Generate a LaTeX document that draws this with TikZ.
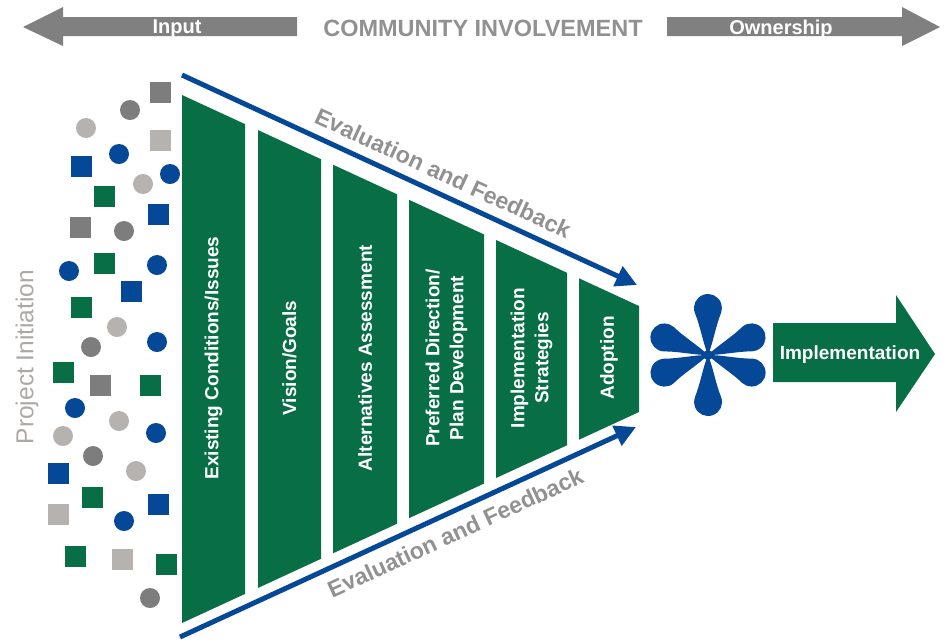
\documentclass[tikz,border=0pt]{standalone}
\usepackage{fontspec}
\setmainfont{Liberation Sans}
\usetikzlibrary{arrows.meta}

\definecolor{fgreen}{RGB}{8,110,70}
\definecolor{fblue}{RGB}{5,72,152}
\definecolor{dgray}{RGB}{125,125,125}
\definecolor{lgray}{RGB}{182,178,176}
\definecolor{agray}{RGB}{128,128,128}
\definecolor{tgray}{RGB}{145,145,145}

\begin{document}
\begin{tikzpicture}[x=1pt,y=-1pt,
	seg/.style={fill=fgreen},
	seglabel/.style={rotate=90,text=white,align=center,font=\fontsize{19}{24}\selectfont\bfseries},
	barlabel/.style={text=white,font=\fontsize{20}{24}\selectfont\bfseries},
	fb/.style={draw=fblue,line width=5pt,-{Triangle[length=21pt,width=21pt]}},
	fblabel/.style={text=tgray,sloped,font=\fontsize{23.2}{27}\selectfont\bfseries}
	]

	\useasboundingbox (0,0) rectangle (947,641);

	% top bar
	\fill[agray] (23,27) -- (63,7) -- (63,17) -- (297,17) -- (297,36) -- (63,36) -- (63,46) -- cycle;
	\fill[agray] (667,17) -- (902,17) -- (902,7) -- (940,27) -- (902,46) -- (902,36) -- (667,36) -- cycle;
	\node[barlabel] (input) at (177,29) {Input};
	\node[barlabel] (owner) at (781,29) {Ownership};
	\node[text=tgray,font=\fontsize{23.5}{26}\selectfont\bfseries] (community) at (483,28) {COMMUNITY INVOLVEMENT};

	\node[rotate=90,text=lgray!80!gray,font=\fontsize{24.5}{28}\selectfont] (init) at (27,357) {Project Initiation};

	\foreach \x/\y/\c in {
	160/92/dgray, 160/140/lgray, 81/166/fblue, 104/196/fgreen,
	158/214/fblue, 80/227/dgray, 104/263/fgreen, 131/291/fblue,
	81/307/fgreen, 63/372/fgreen, 100/385/dgray, 150/385/fgreen,
	58/473/fblue, 92/497/fgreen, 158/504/fblue, 58/514/lgray,
	75/556/fgreen, 122/559/lgray, 166/564/fgreen}
	{
		\fill[\c] (\x-10.5,\y-10.5) rectangle ++(21,21);
	};
	\foreach \x/\y/\c in {
	130/110/dgray, 86/128/lgray, 119/154/fblue, 170/174/fblue,
	143/184/lgray, 124/231/dgray, 69/271/fblue, 157/265/fblue,
	117/327/lgray, 91/347/dgray, 157/342/fblue, 75/408/fblue,
	119/421/lgray, 156/433/fblue, 63/436/lgray, 93/456/dgray,
	136/471/lgray, 124/521/fblue, 150/598/dgray}
	{
		\fill[\c] (\x,\y) circle [radius=10pt];
	};

	% funnel
	\foreach \i/\xl/\xr/\txt in {
	1/182/245/{Existing Conditions/Issues},
	2/258/321/{Vision/Goals},
	3/333/397/{Alternatives Assessment},
	4/409/484/{Preferred Direction/\\Plan Development},
	5/496/567/{Implementation\\Strategies},
	6/579/639/{Adoption}}
	{
		\fill[seg] (\xl,{95+(\xl-182)*0.4617}) -- (\xr,{95+(\xr-182)*0.4617})
			-- (\xr,{623-(\xr-182)*0.4617}) -- (\xl,{623-(\xl-182)*0.4617}) -- cycle;
		\node[seglabel] (s\i) at ({(\xl+\xr)/2},358) {\txt};
	};

	\coordinate (fb1a) at (182,75);
	\coordinate (fb1b) at (637,285);
	\coordinate (fb2a) at (180,637);
	\coordinate (fb2b) at (636,427);
	\draw[fb] (fb1a) -- (fb1b) node[fblabel,above=6pt,pos=0.555] (fbt1) {Evaluation and Feedback};
	\draw[fb] (fb2a) -- (fb2b) node[fblabel,below=6pt,pos=0.585] (fbt2) {Evaluation and Feedback};

	% asterisk
	\coordinate (star) at (708,355);
	\begin{scope}[shift={(star)}]
	\foreach \a in {90,22,-22,158,202,270}
	{
		\fill[fblue,rotate=\a] (0pt,0pt) .. controls (12pt,5pt) and (30pt,8pt) .. (42.2pt,13.2pt)
			arc [start angle=110, end angle=-110, radius=14pt]
			.. controls (30pt,-8pt) and (12pt,-5pt) .. (0pt,0pt) -- cycle;
	};
	\fill[fblue] (star) circle [radius=5pt];
	\end{scope}

	\fill[fgreen] (773,323) -- (896,323) -- (896,295) -- (935,354) -- (896,412) -- (896,382) -- (773,382) -- cycle;
	\node[barlabel,font=\fontsize{19}{24}\selectfont\bfseries] (impl) at (850,355) {Implementation};

\end{tikzpicture}
\end{document}
